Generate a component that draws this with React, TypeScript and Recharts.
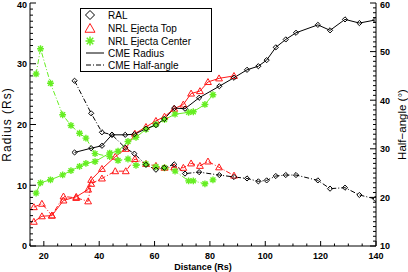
import React from 'react';
import { ComposedChart, Line, XAxis, YAxis, Legend } from 'recharts';

// ---------- data ----------
const ralDistance = [31.1, 37.1, 41.0, 44.6, 49.4, 52.7, 56.9, 60.5, 63.5, 67.1, 71.0, 76.1, 83.4, 88.7, 93.4, 97.5, 100.5, 103.8, 107.4, 111.1, 119.0, 123.4, 128.8, 134.0, 139.7];
const ralRadius = [15.4, 16.1, 16.5, 18.3, 18.3, 18.4, 19.3, 19.9, 20.9, 22.7, 22.6, 24.4, 26.3, 27.7, 29.0, 29.6, 30.6, 32.7, 34.0, 35.1, 36.4, 35.5, 37.3, 36.7, 37.2];
const ralHalfAngle = [44.0, 37.3, 33.4, 32.9, 30.2, 29.0, 26.7, 25.7, 26.1, 26.8, 24.9, 25.2, 24.6, 24.2, 23.9, 23.3, 23.5, 24.4, 24.6, 24.6, 23.5, 21.8, 22.0, 20.5, 19.7];

const topDistance = [16.4, 19.3, 22.9, 27.1, 31.7, 36.0, 37.1, 41.0, 45.8, 49.6, 52.9, 56.9, 60.5, 63.6, 67.1, 70.4, 73.2, 76.4, 79.3, 83.3, 88.7];
const topRadius = [4.0, 4.9, 5.0, 7.5, 8.1, 9.3, 10.9, 12.7, 14.7, 16.0, 18.5, 19.6, 20.6, 21.3, 22.6, 23.3, 25.1, 25.5, 27.0, 27.6, 28.0];
const topHalfAngle = [18.0, 18.7, 16.3, 20.2, 19.9, 19.2, 22.8, 23.9, 25.4, 25.4, 27.9, 26.9, 26.5, 26.1, 26.2, 26.1, 27.0, 26.5, 27.4, 26.2, 24.5];

const centerDistance = [17.2, 18.8, 22.4, 26.8, 29.8, 32.9, 35.2, 38.5, 43.8, 46.8, 50.4, 53.3, 56.9, 60.5, 63.6, 67.4, 72.3, 74.0, 78.2, 81.1];
const centerRadius = [8.7, 10.4, 10.9, 11.7, 12.4, 13.1, 13.6, 13.9, 15.3, 15.6, 17.2, 17.9, 19.2, 20.0, 20.8, 21.7, 22.0, 22.1, 23.3, 24.9];
const centerHalfAngle = [45.4, 50.6, 43.5, 37.0, 34.8, 33.2, 32.2, 29.0, 28.4, 27.6, 27.9, 26.6, 26.9, 26.3, 26.1, 25.4, 23.4, 23.4, 22.8, 23.6];

const xTicks = [20, 40, 60, 80, 100, 120, 140];
const leftTicks = [0, 10, 20, 30, 40];
const rightTicks = [10, 20, 30, 40, 50, 60];

const legendLabels = ['RAL', 'NRL Ejecta Top', 'NRL Ejecta Center', 'CME Radius', 'CME Half-angle'];
const xTitle = 'Distance (Rs)';
const leftTitle = 'Radius (Rs)';
const rightTitle = 'Half\u2212angle (\u00B0)';

// ---------- helpers ----------
const range = (a: number, b: number, s: number) => {
  const out: number[] = [];
  for (let v = a; v <= b + 1e-9; v += s) out.push(v);
  return out;
};
const xAllTicks = range(15, 140, 5);
const leftAllTicks = range(0, 40, 1);
const rightAllTicks = range(10, 60, 1);

const zip = (d: number[], v: number[]) => d.map((x, i) => ({ d: x, v: v[i] }));

const FONT = '"Liberation Sans", Arial, Helvetica, sans-serif';
const RED = '#ff1a1a';
const GREEN = '#66ee22';
const DASHDOT = '5 2 1 2';

const diamondPath = (cx: number, cy: number, s: number) =>
  `M${cx},${cy - s}L${cx + s},${cy}L${cx},${cy + s}L${cx - s},${cy}Z`;
const trianglePath = (cx: number, cy: number, s: number) =>
  `M${cx},${cy - s}L${cx + s},${cy + s * 0.75}L${cx - s},${cy + s * 0.75}Z`;
const asteriskPath = (cx: number, cy: number, s: number) => {
  const d = s * 0.72;
  return `M${cx - s},${cy}L${cx + s},${cy}M${cx},${cy - s}L${cx},${cy + s}M${cx - d},${cy - d}L${cx + d},${cy + d}M${cx - d},${cy + d}L${cx + d},${cy - d}`;
};

const makeDot = (kind: 'diamond' | 'triangle' | 'asterisk', color: string) => (props: any) => {
  const { cx, cy, index } = props;
  if (cx == null || cy == null) return <g key={`e-${index}`} />;
  if (kind === 'diamond')
    return <path key={`m-${index}`} d={diamondPath(cx, cy, 2.6)} fill="none" stroke={color} strokeWidth={1} />;
  if (kind === 'triangle')
    return <path key={`m-${index}`} d={trianglePath(cx, cy, 3.4)} fill="none" stroke={color} strokeWidth={1} />;
  return <path key={`m-${index}`} d={asteriskPath(cx, cy, 3.4)} fill="none" stroke={color} strokeWidth={1.4} />;
};

const textStyle = { fontFamily: FONT, fontSize: 10, fill: '#000' };
const tickStyle = { fontFamily: FONT, fontSize: 9, fontWeight: 700, fill: '#000' };

const bottomTick = (props: any) => {
  const { x, y, payload } = props;
  const major = xTicks.includes(payload.value);
  return (
    <g>
      <line x1={x} y1={y} x2={x} y2={y - (major ? 5 : 2.5)} stroke="#000" strokeWidth={1} />
      {major && (
        <text x={x} y={y + 13.3} textAnchor="middle" style={tickStyle}>
          {payload.value}
        </text>
      )}
    </g>
  );
};
const topTick = (props: any) => {
  const { x, y, payload } = props;
  const major = xTicks.includes(payload.value);
  return <line x1={x} y1={y} x2={x} y2={y + (major ? 5 : 2.5)} stroke="#000" strokeWidth={1} />;
};
const leftTick = (props: any) => {
  const { x, y, payload } = props;
  const major = leftTicks.includes(payload.value);
  return (
    <g>
      <line x1={x} y1={y} x2={x + (major ? 6 : 3)} y2={y} stroke="#000" strokeWidth={1} />
      {major && (
        <text x={x - 3} y={Math.max(y + 3.3, 7.5)} textAnchor="end" style={tickStyle}>
          {payload.value}
        </text>
      )}
    </g>
  );
};
const rightTick = (props: any) => {
  const { x, y, payload } = props;
  const major = rightTicks.includes(payload.value);
  return (
    <g>
      <line x1={x} y1={y} x2={x - (major ? 6 : 3)} y2={y} stroke="#000" strokeWidth={1} />
      {major && (
        <text x={x + 4} y={Math.max(y + 3.3, 7.5)} textAnchor="start" style={tickStyle}>
          {payload.value}
        </text>
      )}
    </g>
  );
};

const XTitle = (props: any) => {
  const vb = props.viewBox;
  return (
    <text x={vb.x + vb.width / 2} y={vb.y + 23.5} textAnchor="middle" style={{ ...tickStyle, fontSize: 9 }}>
      {xTitle}
    </text>
  );
};
const LeftTitle = (props: any) => {
  const vb = props.viewBox;
  const cx = vb.x + 10.5;
  const cy = vb.y + vb.height / 2;
  return (
    <text x={cx} y={cy} transform={`rotate(-90 ${cx} ${cy})`} textAnchor="middle" style={{ ...textStyle, fontSize: 12, letterSpacing: 1 }}>
      {leftTitle}
    </text>
  );
};
const RightTitle = (props: any) => {
  const vb = props.viewBox;
  const cx = vb.x + vb.width - 2.5;
  const cy = vb.y + vb.height / 2;
  return (
    <text x={cx} y={cy} transform={`rotate(-90 ${cx} ${cy})`} textAnchor="middle" style={{ ...textStyle, fontSize: 11.5 }}>
      {rightTitle}
    </text>
  );
};

const LegendBox = () => {
  const rows = [7, 20, 33, 45, 57];
  return (
    <svg width={132} height={64} style={{ display: 'block' }}>
      <rect x={0.5} y={0.5} width={131} height={63} fill="#fff" stroke="#000" strokeWidth={1} />
      <path d={diamondPath(10, rows[0], 4.5)} fill="none" stroke="#000" strokeWidth={1} />
      <path d={trianglePath(10, rows[1] + 0.5, 5)} fill="none" stroke={RED} strokeWidth={1} />
      <path d={asteriskPath(10, rows[2], 4.5)} fill="none" stroke={GREEN} strokeWidth={1.5} />
      <line x1={6} y1={rows[3]} x2={24} y2={rows[3]} stroke="#000" strokeWidth={1} />
      <line x1={6} y1={rows[4]} x2={24} y2={rows[4]} stroke="#000" strokeWidth={1} strokeDasharray={DASHDOT} />
      {legendLabels.map((t, i) => (
        <text key={t} x={28} y={rows[i] + 3.6} style={textStyle}>
          {t}
        </text>
      ))}
    </svg>
  );
};

export default function App() {
  return (
    <div style={{ position: 'absolute', left: 0, top: 0, width: 408, height: 272, background: '#fff' }}>
      <ComposedChart width={408} height={272} margin={{ top: 3, right: 0, bottom: 0, left: 0 }}>
        <XAxis
          xAxisId="x"
          type="number"
          dataKey="d"
          domain={[15, 140]}
          ticks={xAllTicks}
          interval={0}
          tickSize={0}
          tickMargin={0}
          tickLine={false}
          tick={bottomTick}
          axisLine={{ stroke: '#000' }}
          height={26}
          allowDataOverflow
          label={{ content: XTitle }}
        />
        <XAxis
          xAxisId="top"
          orientation="top"
          type="number"
          dataKey="d"
          domain={[15, 140]}
          ticks={xAllTicks}
          interval={0}
          tickSize={0}
          tickMargin={0}
          tickLine={false}
          tick={topTick}
          axisLine={{ stroke: '#000' }}
          height={0}
          allowDataOverflow
        />
        <YAxis
          yAxisId="left"
          type="number"
          domain={[0, 40]}
          ticks={leftAllTicks}
          interval={0}
          tickSize={0}
          tickMargin={0}
          tickLine={false}
          tick={leftTick}
          axisLine={{ stroke: '#000' }}
          width={30}
          allowDataOverflow
          label={{ content: LeftTitle }}
        />
        <YAxis
          yAxisId="right"
          orientation="right"
          type="number"
          domain={[10, 60]}
          ticks={rightAllTicks}
          interval={0}
          tickSize={0}
          tickMargin={0}
          tickLine={false}
          tick={rightTick}
          axisLine={{ stroke: '#000' }}
          width={32}
          allowDataOverflow
          label={{ content: RightTitle }}
        />
        <Line data={zip(topDistance, topHalfAngle)} dataKey="v" xAxisId="x" yAxisId="right" stroke={RED} strokeWidth={1} strokeDasharray={DASHDOT} dot={makeDot('triangle', RED)} activeDot={false} isAnimationActive={false} />
        <Line data={zip(topDistance, topRadius)} dataKey="v" xAxisId="x" yAxisId="left" stroke={RED} strokeWidth={1} dot={makeDot('triangle', RED)} activeDot={false} isAnimationActive={false} />
        <Line data={zip(centerDistance, centerHalfAngle)} dataKey="v" xAxisId="x" yAxisId="right" stroke={GREEN} strokeWidth={1} strokeDasharray={DASHDOT} dot={makeDot('asterisk', GREEN)} activeDot={false} isAnimationActive={false} />
        <Line data={zip(centerDistance, centerRadius)} dataKey="v" xAxisId="x" yAxisId="left" stroke={GREEN} strokeWidth={1} dot={makeDot('asterisk', GREEN)} activeDot={false} isAnimationActive={false} />
        <Line data={zip(ralDistance, ralHalfAngle)} dataKey="v" xAxisId="x" yAxisId="right" stroke="#000" strokeWidth={1} strokeDasharray={DASHDOT} dot={makeDot('diamond', '#000')} activeDot={false} isAnimationActive={false} />
        <Line data={zip(ralDistance, ralRadius)} dataKey="v" xAxisId="x" yAxisId="left" stroke="#000" strokeWidth={1} dot={makeDot('diamond', '#000')} activeDot={false} isAnimationActive={false} />
        <Legend
          layout="vertical"
          align="center"
          verticalAlign="middle"
          content={LegendBox}
          wrapperStyle={{ left: 80, top: 8, width: 132, height: 64 }}
        />
      </ComposedChart>
    </div>
  );
}
